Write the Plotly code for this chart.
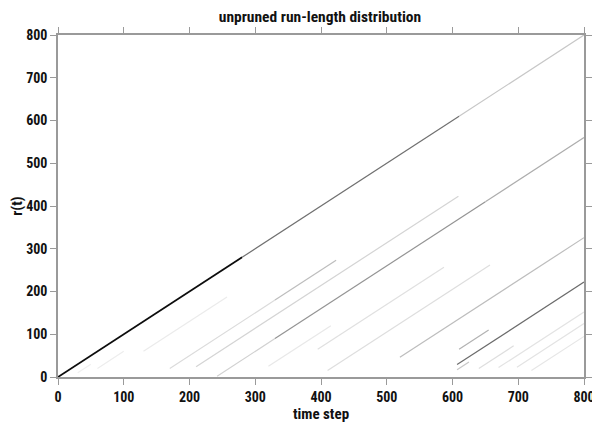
import plotly.graph_objects as go

# ---- data: run-length segments (slope-1 streaks in the run-length distribution)
# change point (time at which run length restarts at 0)
change_points = [0, 0, 0, 240, 240, 240, 578, 474, 150, 150, 186, 330, 395, 70,
                 545, 590, 620, 648, 675, 705, 40, 295, 20]
# first and last time step at which the streak is visible
seg_start = [0, 280, 610, 242, 330, 650, 607, 520, 170, 330, 210, 395, 410, 130,
             610, 607, 640, 670, 698, 720, 60, 320, 30]
seg_end = [280, 610, 800, 330, 650, 800, 800, 800, 330, 423, 609, 587, 657, 257,
           655, 625, 693, 800, 800, 800, 100, 415, 50]
# posterior mass carried by the streak (0..1)
mass = [0.95, 0.56, 0.22, 0.18, 0.42, 0.32, 0.58, 0.26, 0.14, 0.26, 0.17, 0.12, 0.13, 0.08,
        0.3, 0.22, 0.13, 0.11, 0.11, 0.1, 0.07, 0.09, 0.06]

x_ticks = [0, 100, 200, 300, 400, 500, 600, 700, 800]
y_ticks = [0, 100, 200, 300, 400, 500, 600, 700, 800]

FONT = "Liberation Sans Narrow, Arial Narrow, Roboto Condensed, Liberation Sans, sans-serif"


def gray(m):
    v = int(round(255 * (1 - m)))
    return f"rgb({v},{v},{v})"


fig = go.Figure()
for cp, s, e, m in zip(change_points, seg_start, seg_end, mass):
    fig.add_trace(go.Scatter(
        x=[s, e], y=[s - cp, e - cp], mode="lines",
        line=dict(color=gray(m), width=1.8 if m > 0.8 else 1.2),
        hoverinfo="skip", showlegend=False,
    ))

axis_common = dict(
    showline=True, linecolor="#9a9a9a", linewidth=1.6, mirror="ticks",
    ticks="outside", ticklen=6, tickwidth=1.3, tickcolor="#9a9a9a",
    showgrid=False, zeroline=False, automargin=False,
    tickfont=dict(family=FONT, size=14, color="#111", weight="bold"),
)

fig.update_xaxes(range=[0, 800], tickvals=x_ticks, ticktext=[str(v) for v in x_ticks],
                 title=dict(text="time step", standoff=0,
                            font=dict(family=FONT, size=15, color="#111", weight="bold")),
                 **axis_common)
fig.update_yaxes(range=[0, 800], tickvals=y_ticks, ticktext=[str(v) for v in y_ticks],
                 title=dict(text="r(t)", standoff=2,
                            font=dict(family=FONT, size=15, color="#111", weight="bold")),
                 **axis_common)

# the page body adds an 8px margin, so the figure is sized to fill the rest of the window
fig.update_layout(
    width=592, height=415,
    margin=dict(l=50, r=16, t=27, b=46),
    paper_bgcolor="white", plot_bgcolor="white",
    title=dict(text="unpruned run-length distribution", x=0.527, xanchor="center",
               y=0.979, yanchor="middle",
               font=dict(family=FONT, size=15.5, color="#111", weight="bold")),
)

fig.write_html("out.html")
